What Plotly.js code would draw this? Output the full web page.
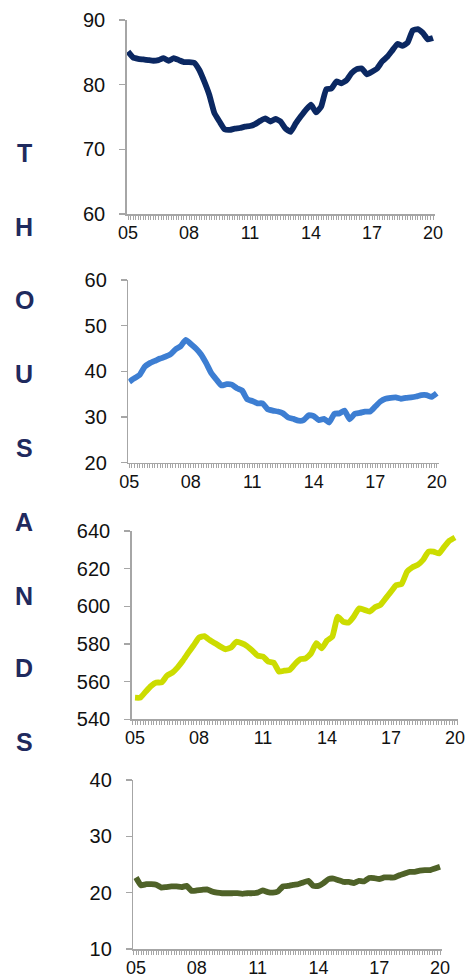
<!DOCTYPE html>
<html>
<head>
<meta charset="utf-8">
<script src="https://cdn.plot.ly/plotly-3.0.1.min.js"></script>
<style>html,body{margin:0;padding:0;background:#fff;}#chart{width:465px;height:980px;}</style>
</head>
<body>
<div id="chart"></div>
<script>
// Quarterly observations 2005Q1 .. 2020Q1 (thousands)
const quarters = [];
for (let i = 0; i <= 60; i++) quarters.push(2005 + i * 0.25);

const series1 = [85.1,84.2,84.0,83.9,83.8,83.7,83.8,84.1,83.7,84.1,83.8,83.5,83.5,83.4,82.3,80.5,
  78.4,75.6,74.3,73.1,73.0,73.2,73.3,73.5,73.6,73.9,74.4,74.8,74.3,74.7,74.3,73.2,
  72.7,74.0,75.1,76.1,76.9,75.7,76.6,79.3,79.4,80.5,80.2,80.7,81.8,82.4,82.5,81.6,
  82.0,82.5,83.6,84.3,85.3,86.3,86.0,86.5,88.4,88.6,88.0,87.0,87.2];
const series2 = [37.7,38.5,39.2,41.0,41.8,42.3,42.8,43.2,43.7,44.8,45.5,46.9,46.0,45.0,43.7,41.8,
  39.6,38.2,36.9,37.2,37.1,36.3,35.8,33.9,33.5,33.0,33.0,31.7,31.4,31.2,30.8,29.9,
  29.6,29.2,29.3,30.4,30.2,29.3,29.6,28.8,30.7,30.8,31.4,29.5,30.7,30.9,31.2,31.2,
  32.3,33.4,34.0,34.2,34.3,34.0,34.2,34.3,34.5,34.8,34.8,34.4,35.2];
const series3 = [551.5,551.5,554.7,557.7,559.5,559.6,563.2,564.8,567.6,571.2,575.4,579.3,583.4,584.2,582.1,580.4,
  578.6,577.2,578.1,581.2,580.4,578.9,576.5,573.8,573.3,570.6,570.1,565.3,565.8,566.2,569.4,571.9,
  572.4,575.0,580.4,577.7,581.8,583.9,594.5,591.9,591.3,594.5,598.9,598.1,597.2,599.5,600.7,604.2,
  607.8,611.3,611.9,618.4,620.7,622.0,624.6,629.0,629.0,628.1,631.7,634.9,636.6];
const series4 = [22.7,21.3,21.5,21.5,21.4,20.9,21.0,21.1,21.1,21.0,21.2,20.3,20.4,20.5,20.6,20.2,
  20.0,19.9,19.9,19.9,19.9,19.8,19.9,19.9,20.0,20.4,20.1,20.0,20.2,21.1,21.2,21.4,
  21.5,21.8,22.1,21.2,21.2,21.7,22.4,22.5,22.2,21.9,21.9,21.7,22.1,22.0,22.6,22.6,
  22.4,22.7,22.7,22.7,23.1,23.4,23.7,23.7,23.9,24.0,24.0,24.3,24.6];

const xTickVals = [2005, 2008, 2011, 2014, 2017, 2020];
const xTickText = ['05', '08', '11', '14', '17', '20'];
const sideLetters = ['T','H','O','U','S','A','N','D','S'];

const colors = ['#0B2862', '#3D7ED2', '#CCDC00', '#4F6228'];
const allSeries = [series1, series2, series3, series4];

const W = 465, H = 980;
// panel geometry in pixels: [axisLeft, axisRight, topPx, bottomPx, xmin, xmax, ymin, ymax, dtick]
const panels = [
  [126.7, 435.0, 20.0, 214.0, 2004.936, 2020.098, 60, 90, 10],
  [128.3, 439.0, 280.0, 462.7, 2004.95, 2020.11, 20, 60, 10],
  [131.7, 458.3, 531.0, 719.3, 2004.845, 2020.155, 540, 640, 20],
  [133.3, 442.3, 780.0, 949.0, 2004.867, 2020.113, 10, 40, 10]
];

const axisGray = '#A6A6A6';
const tickFont = {family: 'Liberation Sans, Arial, sans-serif', size: 18, color: '#111111'};
const yTickFont = {family: 'Liberation Sans, Arial, sans-serif', size: 20, color: '#111111'};

const data = [];
const layout = {
  width: W, height: H,
  margin: {l: 0, r: 0, t: 0, b: 0},
  paper_bgcolor: '#ffffff', plot_bgcolor: 'rgba(0,0,0,0)',
  showlegend: false,
  annotations: []
};

panels.forEach((p, i) => {
  const n = i === 0 ? '' : String(i + 1);
  data.push({
    type: 'scatter', mode: 'lines',
    x: quarters, y: allSeries[i],
    xaxis: 'x' + n, yaxis: 'y' + n,
    line: {color: colors[i], width: 5.8, shape: 'spline', smoothing: 0.4},
    hoverinfo: 'skip'
  });
  layout['xaxis' + n] = {
    domain: [p[0] / W, p[1] / W],
    range: [p[4], p[5]],
    anchor: 'y' + n,
    showgrid: false, zeroline: false,
    showline: true, linecolor: axisGray, linewidth: 1.5,
    tickmode: 'array', tickvals: xTickVals, ticktext: xTickText,
    ticks: 'outside', ticklen: 4, tickwidth: 1, tickcolor: axisGray,
    minor: {ticks: 'outside', ticklen: 4, tickwidth: 1, tickcolor: axisGray, dtick: 0.125, tick0: 2005, showgrid: false},
    tickfont: tickFont,
    ticklabelstandoff: -2,
    ticklabeloverflow: 'allow',
    fixedrange: true
  };
  layout['yaxis' + n] = {
    domain: [1 - p[3] / H, 1 - p[2] / H],
    range: [p[6], p[7]],
    anchor: 'x' + n,
    showgrid: false, zeroline: false,
    showline: true, linecolor: axisGray, linewidth: 1.5,
    tickmode: 'linear', tick0: p[6], dtick: p[8],
    ticks: 'outside', ticklen: 6, tickwidth: 1.5, tickcolor: axisGray,
    tickfont: yTickFont,
    ticklabelstandoff: 10,
    ticklabeloverflow: 'allow',
    fixedrange: true
  };
});

const letterY = [153, 227, 300, 374, 448, 522, 596, 668, 742];
sideLetters.forEach((ch, k) => {
  layout.annotations.push({
    text: '<b>' + ch + '</b>',
    xref: 'paper', yref: 'paper',
    x: 24 / W, y: 1 - letterY[k] / H,
    xanchor: 'center', yanchor: 'middle',
    showarrow: false,
    font: {family: 'Liberation Sans, Arial, sans-serif', size: 25, color: '#1F2A5E'}
  });
});

Plotly.newPlot('chart', data, layout, {staticPlot: true, displayModeBar: false});
</script>
</body>
</html>
